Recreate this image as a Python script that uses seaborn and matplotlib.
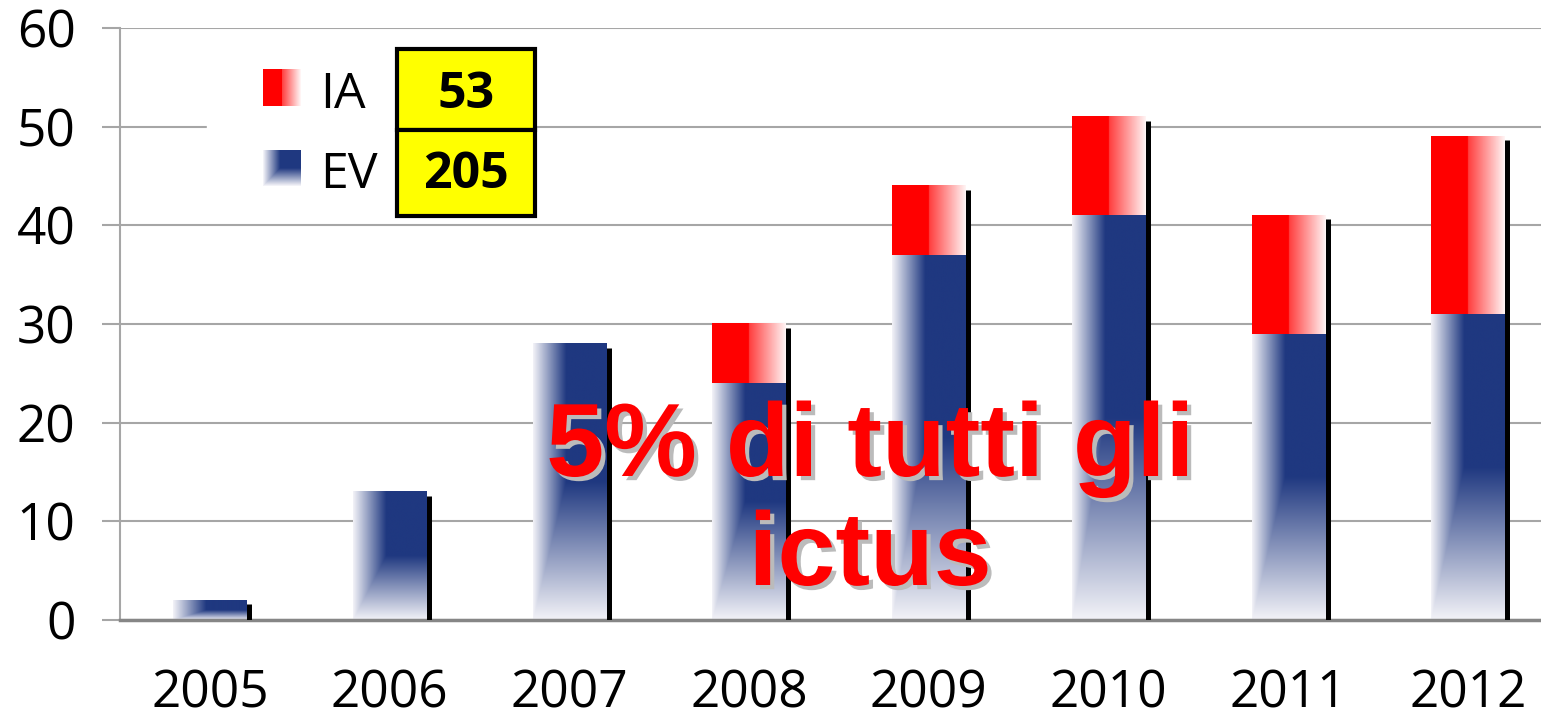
import matplotlib
matplotlib.use("Agg")
import matplotlib.pyplot as plt
import matplotlib.patheffects as pe
from matplotlib.patches import Rectangle
import numpy as np
import pandas as pd
import seaborn as sns

# data
years = ["2005", "2006", "2007", "2008", "2009", "2010", "2011", "2012"]
ev = [2, 13, 28, 24, 37, 41, 29, 31]
ia = [0, 0, 0, 6, 7, 10, 12, 18]
yticks = [0, 10, 20, 30, 40, 50, 60]
series = ["IA", "EV"]
note = ["5% di tutti gli", "ictus"]

BLUE = np.array([31, 56, 128]) / 255
RED = np.array([1.0, 0.0, 0.0])
BASE = np.array([0.95, 0.95, 0.97])
W, H = 1541, 717


def ev_image(nx=120, ny=200):
    # white -> blue from the left, and fading out towards the bottom
    h = np.clip(np.linspace(0, 1, nx) / 0.45, 0, 1)
    v = np.clip(np.linspace(0, 1, ny) / 0.5, 0, 1)
    f = np.minimum(h[None, :], v[:, None])[:, :, None]
    return BASE * (1 - f) + BLUE * f


def ia_image(nx=120, ny=2):
    x = np.linspace(0, 1, nx)
    f = np.where(x < 0.5, 1.0, 0.72 * (1 - (x - 0.5) / 0.5) + 0.04)
    row = np.array([1.0, 1.0, 1.0]) * (1 - f[:, None]) + RED * f[:, None]
    return np.repeat(row[None, :, :], ny, axis=0)


sns.set_theme(style="white")
plt.rcParams["font.family"] = ["Open Sans", "DejaVu Sans"]
plt.rcParams["text.color"] = "black"

df = pd.DataFrame({"year": years, "EV": ev, "IA": ia})
df["total"] = df["EV"] + df["IA"]

fig = plt.figure(figsize=(W / 100, H / 100), dpi=100)
ax = fig.add_axes([120 / W, 97 / H, 1438 / W, 592 / H])

sns.barplot(data=df, x="year", y="total", width=0.41, color="red",
            errorbar=None, ax=ax)
tot_bars = list(ax.patches)
sns.barplot(data=df, x="year", y="EV", width=0.41, color="navy",
            errorbar=None, ax=ax)
ev_bars = list(ax.patches)[len(tot_bars):]

ev_img = ev_image()
ia_img = ia_image()
for tb, eb, n in zip(tot_bars, ev_bars, ia):
    tb.set_visible(False)
    eb.set_visible(False)
    x0, w = eb.get_x(), eb.get_width()
    ax.imshow(ev_img, extent=(x0, x0 + w, 0, eb.get_height()), aspect="auto",
              origin="lower", interpolation="bilinear", zorder=2)
    if n > 0:
        ax.imshow(ia_img, extent=(x0, x0 + w, eb.get_height(), tb.get_height()),
                  aspect="auto", origin="lower", interpolation="bilinear", zorder=2)

# black shadow edge on the right of every bar
ax.vlines([b.get_x() + b.get_width() + 0.014 for b in tot_bars], 0,
          [b.get_height() - 0.4 for b in tot_bars], color="black", lw=3.6, zorder=3)

ax.set_xlim(-0.5, 7.5)
ax.set_ylim(0, 60)
ax.set_yticks(yticks)
ax.set_xlabel("")
ax.set_ylabel("")
ax.yaxis.grid(True, color="#A6A6A6", lw=1.5)
ax.set_axisbelow(True)
ax.tick_params(axis="y", left=True, length=13, width=1.5, color="#A6A6A6",
               pad=19, labelsize=37, labelcolor="black")
ax.tick_params(axis="x", bottom=False, length=0, pad=35, labelsize=37,
               labelcolor="black")
for s in ["top", "right"]:
    ax.spines[s].set_visible(False)
ax.spines["left"].set_color("#A6A6A6")
ax.spines["left"].set_linewidth(1.5)
ax.spines["bottom"].set_color("#868686")
ax.spines["bottom"].set_linewidth(2.5)

# legend area
fig.patches.append(Rectangle((207 / W, (H - 215) / H), 188 / W, 165 / H,
                             transform=fig.transFigure, color="white", zorder=1))
fig.figimage(ia_image(38, 37), xo=263, yo=H - 106, origin="lower", zorder=5)
fig.figimage(ev_image(38, 36), xo=263, yo=H - 186, origin="lower", zorder=5)
fig.text(320 / W, (H - 108) / H, series[0], fontsize=36, va="baseline",
         color="black", zorder=5)
fig.text(320 / W, (H - 188) / H, series[1], fontsize=36, va="baseline",
         color="black", zorder=5)

totals = [sum(ia), sum(ev)]
for (top, bot), val, base in zip([(49, 130), (130, 216)], totals, [108, 188]):
    fig.patches.append(Rectangle((397 / W, (H - bot) / H), 138 / W, (bot - top) / H,
                                 transform=fig.transFigure, facecolor="#FFFF00",
                                 edgecolor="black", lw=3, zorder=4))
    fig.text(466 / W, (H - base) / H, str(val), fontsize=36, fontweight="bold",
             color="black", ha="center", va="baseline", zorder=5)

shadow = [pe.withSimplePatchShadow(offset=(3, -3), shadow_rgbFace="#BBBBBB", alpha=1)]
for line, base in zip(note, [476, 585]):
    fig.text(870 / W, (H - base) / H, line, fontsize=75, fontweight="bold",
             color="red", family="Liberation Sans", ha="center", va="baseline",
             path_effects=shadow, zorder=6)

fig.savefig("out.png", dpi=100)
